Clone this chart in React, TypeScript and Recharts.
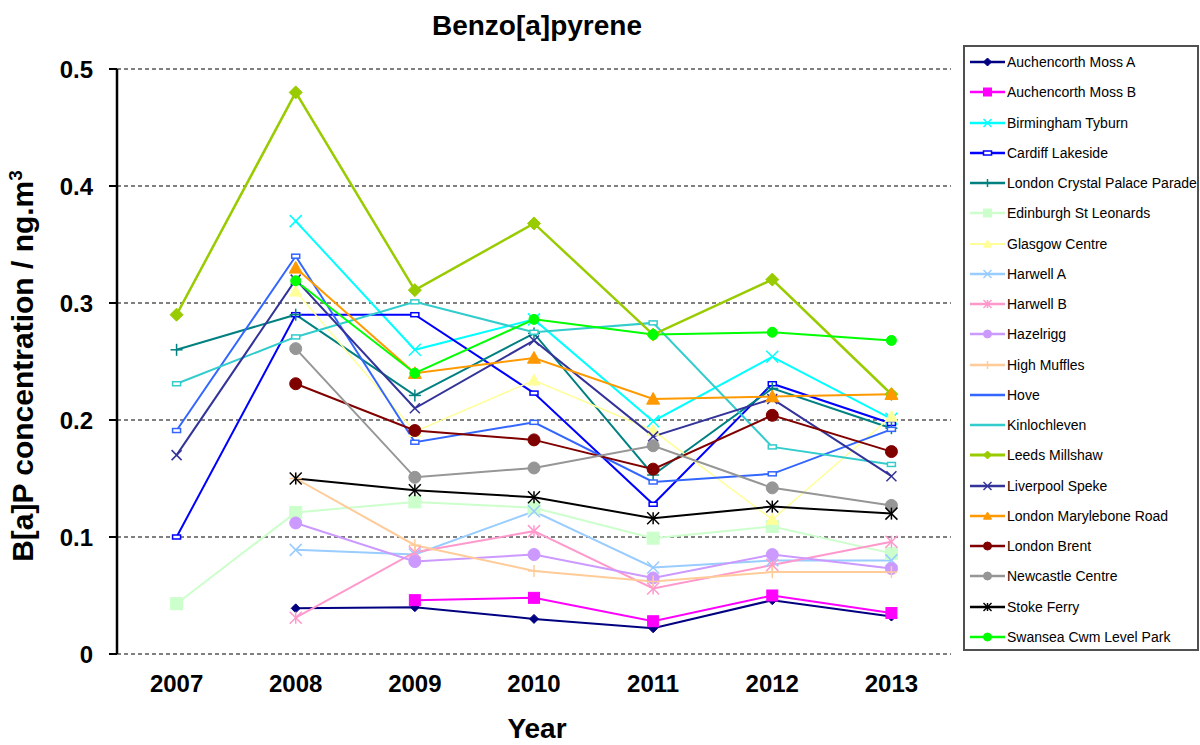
import React from 'react';
import { LineChart, Line, XAxis, YAxis, CartesianGrid } from 'recharts';

const years = [2007, 2008, 2009, 2010, 2011, 2012, 2013];
const yearBounds = [2006.5, 2007.5, 2008.5, 2009.5, 2010.5, 2011.5, 2012.5, 2013.5];
const yTicks = [0, 0.1, 0.2, 0.3, 0.4, 0.5];

const auchencorthA = [null, 0.039, 0.040, 0.030, 0.022, 0.046, 0.032];
const auchencorthB = [null, null, 0.046, 0.048, 0.028, 0.050, 0.035];
const birmingham = [null, 0.370, 0.260, 0.286, 0.199, 0.254, 0.201];
const cardiff = [0.100, 0.290, 0.290, 0.223, 0.128, 0.231, 0.197];
const londonCPP = [0.260, 0.290, 0.221, 0.274, 0.153, 0.227, 0.193];
const edinburgh = [0.043, 0.121, 0.130, 0.125, 0.099, 0.109, 0.086];
const glasgow = [null, 0.310, 0.190, 0.234, 0.191, 0.115, 0.203];
const harwellA = [null, 0.089, 0.085, 0.122, 0.074, 0.080, 0.080];
const harwellB = [null, 0.031, 0.087, 0.105, 0.056, 0.076, 0.096];
const hazelrigg = [null, 0.112, 0.079, 0.085, 0.065, 0.085, 0.073];
const highMuffles = [null, 0.150, 0.093, 0.071, 0.062, 0.070, 0.070];
const hove = [0.191, 0.340, 0.181, 0.198, 0.147, 0.154, 0.192];
const kinlochleven = [0.231, 0.271, 0.301, 0.275, 0.283, 0.177, 0.162];
const leeds = [0.290, 0.480, 0.311, 0.368, 0.273, 0.320, 0.222];
const liverpool = [0.170, 0.320, 0.210, 0.268, 0.186, 0.218, 0.152];
const marylebone = [null, 0.330, 0.240, 0.253, 0.218, 0.220, 0.222];
const brent = [null, 0.231, 0.191, 0.183, 0.158, 0.204, 0.173];
const newcastle = [null, 0.261, 0.151, 0.159, 0.178, 0.142, 0.127];
const stokeFerry = [null, 0.150, 0.140, 0.134, 0.116, 0.126, 0.120];
const swansea = [null, 0.319, 0.240, 0.286, 0.273, 0.275, 0.268];

type Shape = 'diamond' | 'square' | 'x' | 'plus' | 'star' | 'circle' | 'triangle' | 'dash';

interface Series {
  key: string;
  name: string;
  values: (number | null)[];
  color: string;
  shape: Shape;
  size: number;
  width: number;
}

const series: Series[] = [
  { key: 'aa', name: 'Auchencorth Moss A', values: auchencorthA, color: '#000080', shape: 'diamond', size: 4.5, width: 2 },
  { key: 'ab', name: 'Auchencorth Moss B', values: auchencorthB, color: '#FF00FF', shape: 'square', size: 5.5, width: 2 },
  { key: 'bt', name: 'Birmingham Tyburn', values: birmingham, color: '#00FFFF', shape: 'x', size: 6, width: 2 },
  { key: 'cl', name: 'Cardiff Lakeside', values: cardiff, color: '#0000FF', shape: 'dash', size: 4, width: 2 },
  { key: 'lc', name: 'London Crystal Palace Parade', values: londonCPP, color: '#008080', shape: 'plus', size: 6, width: 2 },
  { key: 'es', name: 'Edinburgh St Leonards', values: edinburgh, color: '#CCFFCC', shape: 'square', size: 6, width: 2 },
  { key: 'gc', name: 'Glasgow Centre', values: glasgow, color: '#FFFF99', shape: 'triangle', size: 6, width: 1.5 },
  { key: 'ha', name: 'Harwell A', values: harwellA, color: '#99CCFF', shape: 'x', size: 6, width: 2 },
  { key: 'hb', name: 'Harwell B', values: harwellB, color: '#FF99CC', shape: 'star', size: 6, width: 2 },
  { key: 'hz', name: 'Hazelrigg', values: hazelrigg, color: '#CC99FF', shape: 'circle', size: 6, width: 2 },
  { key: 'hm', name: 'High Muffles', values: highMuffles, color: '#FFCC99', shape: 'plus', size: 6, width: 2 },
  { key: 'hv', name: 'Hove', values: hove, color: '#3366FF', shape: 'dash', size: 4, width: 2 },
  { key: 'kl', name: 'Kinlochleven', values: kinlochleven, color: '#33CCCC', shape: 'dash', size: 4, width: 2 },
  { key: 'lm', name: 'Leeds Millshaw', values: leeds, color: '#99CC00', shape: 'diamond', size: 6.5, width: 2.5 },
  { key: 'ls', name: 'Liverpool Speke', values: liverpool, color: '#333399', shape: 'x', size: 5, width: 2 },
  { key: 'mr', name: 'London Marylebone Road', values: marylebone, color: '#FF9900', shape: 'triangle', size: 6.5, width: 2 },
  { key: 'lb', name: 'London Brent', values: brent, color: '#800000', shape: 'circle', size: 6, width: 2 },
  { key: 'nc', name: 'Newcastle Centre', values: newcastle, color: '#969696', shape: 'circle', size: 6, width: 2 },
  { key: 'sf', name: 'Stoke Ferry', values: stokeFerry, color: '#000000', shape: 'star', size: 6, width: 2 },
  { key: 'sw', name: 'Swansea Cwm Level Park', values: swansea, color: '#00FF00', shape: 'circle', size: 5, width: 2 },
];

const rows = years.map((year, i) => {
  const row: Record<string, number | null> = { year };
  series.forEach((s) => {
    row[s.key] = s.values[i];
  });
  return row;
});

const FONT = '"Liberation Sans", Arial, sans-serif';

function Marker({ shape, cx, cy, color, size }: { shape: Shape; cx: number; cy: number; color: string; size: number }) {
  const s = size;
  switch (shape) {
    case 'diamond':
      return <polygon points={`${cx},${cy - s} ${cx + s},${cy} ${cx},${cy + s} ${cx - s},${cy}`} fill={color} stroke={color} strokeWidth={1} />;
    case 'square':
      return <rect x={cx - s} y={cy - s} width={2 * s} height={2 * s} fill={color} stroke={color} strokeWidth={1} />;
    case 'circle':
      return <circle cx={cx} cy={cy} r={s} fill={color} stroke={color} strokeWidth={1} />;
    case 'triangle':
      return <polygon points={`${cx},${cy - s} ${cx + s},${cy + s * 0.8} ${cx - s},${cy + s * 0.8}`} fill={color} stroke={color} strokeWidth={1} />;
    case 'x':
      return (
        <g stroke={color} strokeWidth={1.5}>
          <line x1={cx - s} y1={cy - s} x2={cx + s} y2={cy + s} />
          <line x1={cx - s} y1={cy + s} x2={cx + s} y2={cy - s} />
        </g>
      );
    case 'plus':
      return (
        <g stroke={color} strokeWidth={1.5}>
          <line x1={cx - s} y1={cy} x2={cx + s} y2={cy} />
          <line x1={cx} y1={cy - s} x2={cx} y2={cy + s} />
        </g>
      );
    case 'star':
      return (
        <g stroke={color} strokeWidth={1.5}>
          <line x1={cx - s} y1={cy - s} x2={cx + s} y2={cy + s} />
          <line x1={cx - s} y1={cy + s} x2={cx + s} y2={cy - s} />
          <line x1={cx} y1={cy - s} x2={cx} y2={cy + s} />
        </g>
      );
    case 'dash':
      return <rect x={cx - s} y={cy - s / 2} width={2 * s} height={s} fill="#ffffff" stroke={color} strokeWidth={1.5} />;
    default:
      return null;
  }
}

const makeDot = (s: Series) => (props: any) => {
  const { cx, cy, index, value } = props;
  const k = `${s.key}-dot-${index}`;
  if (cx == null || cy == null || value == null || (Array.isArray(value) && value[1] == null)) {
    return <g key={k} />;
  }
  return (
    <g key={k}>
      <Marker shape={s.shape} cx={cx} cy={cy} color={s.color} size={s.size} />
    </g>
  );
};

function LegendBox() {
  return (
    <div
      style={{
        position: 'absolute',
        left: 963,
        top: 45,
        width: 236,
        height: 606,
        border: '2px solid #505050',
        boxSizing: 'border-box',
        background: '#fff',
      }}
    >
      {series.map((s, i) => {
        const cy = 15 + i * 30.26;
        return (
          <div key={s.key} style={{ position: 'absolute', left: 0, top: cy - 10, height: 20, width: 234 }}>
            <svg width={40} height={20} style={{ position: 'absolute', left: 4, top: 0 }}>
              <line x1={1} y1={10} x2={36} y2={10} stroke={s.color} strokeWidth={s.width + 0.5} />
              {s.shape !== 'dash' || s.key === 'cl' ? (
                <Marker shape={s.shape} cx={18.5} cy={10} color={s.color} size={Math.min(s.size, 4)} />
              ) : null}
            </svg>
            <span
              style={{
                position: 'absolute',
                left: 42,
                top: 1,
                fontFamily: FONT,
                fontSize: 14,
                lineHeight: '18px',
                color: '#000',
                whiteSpace: 'nowrap',
              }}
            >
              {s.name}
            </span>
          </div>
        );
      })}
    </div>
  );
}

export default function App() {
  return (
    <div style={{ position: 'absolute', left: 0, top: 0, width: 1200, height: 745, background: '#fff' }}>
      <LineChart width={1200} height={745} data={rows} margin={{ top: 69, right: 249, bottom: 61, left: 57 }}>
        <CartesianGrid vertical={false} stroke="#000" strokeDasharray="4 3" strokeWidth={1} xAxisId="ticks" />
        <XAxis
          xAxisId="ticks"
          dataKey="year"
          type="number"
          domain={[2006.5, 2013.5]}
          ticks={yearBounds}
          interval={0}
          height={0}
          tickSize={6}
          tickFormatter={() => ''}
          axisLine={{ stroke: '#000', strokeWidth: 2.5 }}
          tickLine={{ stroke: '#000', strokeWidth: 2 }}
        />
        <XAxis
          xAxisId="main"
          dataKey="year"
          type="number"
          domain={[2006.5, 2013.5]}
          ticks={years}
          interval={0}
          height={30}
          tickSize={6}
          tickMargin={15}
          axisLine={false}
          tickLine={false}
          tick={{ fill: '#000', fontFamily: FONT, fontSize: 24, fontWeight: 'bold' }}
        />
        <YAxis
          type="number"
          domain={[0, 0.5]}
          ticks={yTicks}
          interval={0}
          width={60}
          tickSize={8}
          tickMargin={16}
          axisLine={{ stroke: '#000', strokeWidth: 2.5 }}
          tickLine={{ stroke: '#000', strokeWidth: 2 }}
          tick={{ fill: '#000', fontFamily: FONT, fontSize: 24, fontWeight: 'bold' }}
        />
        {series.map((s) => (
          <Line
            key={s.key}
            xAxisId="main"
            type="linear"
            dataKey={s.key}
            name={s.name}
            stroke={s.color}
            strokeWidth={s.width}
            dot={makeDot(s)}
            activeDot={false}
            isAnimationActive={false}
            connectNulls={false}
          />
        ))}
      </LineChart>
      <svg width={1200} height={745} style={{ position: 'absolute', left: 0, top: 0, pointerEvents: 'none' }}>
        <text x={537} y={35} textAnchor="middle" fontFamily={FONT} fontSize={28} fontWeight="bold" fill="#000">
          Benzo[a]pyrene
        </text>
        <text x={537} y={738} textAnchor="middle" fontFamily={FONT} fontSize={28} fontWeight="bold" fill="#000">
          Year
        </text>
        <text transform="rotate(-90)" x={-366} y={33} textAnchor="middle" fontFamily={FONT} fontSize={30} fontWeight="bold" fill="#000">
          B[a]P concentration / ng.m
          <tspan dy={-11} fontSize={19}>3</tspan>
        </text>
      </svg>
      <LegendBox />
    </div>
  );
}
